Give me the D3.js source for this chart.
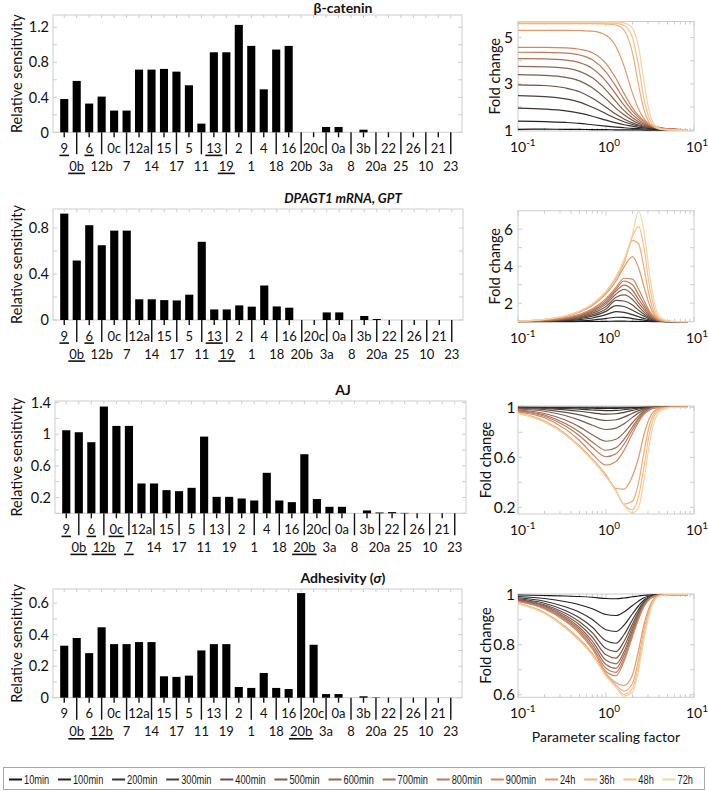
<!DOCTYPE html>
<html>
<head>
<meta charset="utf-8">
<script src="https://cdn.jsdelivr.net/npm/d3@7/dist/d3.min.js"></script>
<style>
html,body{margin:0;padding:0;background:#fff;}
svg{display:block;}
text{font-family:Lato,"Open Sans",sans-serif;fill:#111;}
</style>
</head>
<body>
<svg id="chart" width="708" height="792"></svg>
<script>
// ---------------- data ----------------
const categories = ["9","0b","6","12b","0c","7","12a","14","15","17","5","11","13","19","2","1","4","18","16","20b","20c","3a","0a","8","3b","20a","22","25","26","10","21","23"];

const betaCatenin = [0.38,0.587,0.328,0.408,0.248,0.248,0.716,0.716,0.724,0.693,0.537,0.099,0.914,0.914,1.227,0.987,0.491,0.945,0.987,0,0,0.061,0.061,0,0.03,0,0,0,0,0,0,0];
const dpagt1 = [0.925,0.517,0.824,0.65,0.777,0.777,0.18,0.18,0.173,0.17,0.22,0.68,0.092,0.092,0.127,0.116,0.30,0.118,0.107,0,0,0.066,0.066,0,0.035,0.009,0,0,0,0,0,0];
const aj = [1.05,1.025,0.899,1.35,1.105,1.105,0.377,0.377,0.293,0.28,0.322,0.97,0.208,0.208,0.187,0.162,0.512,0.162,0.141,0.747,0.18,0.082,0.082,0,0.036,0.01,0.015,0.005,0,0,0,0];
const adhesivity = [0.33,0.379,0.283,0.447,0.34,0.34,0.353,0.353,0.136,0.132,0.14,0.30,0.34,0.34,0.068,0.062,0.157,0.062,0.055,0.664,0.336,0.023,0.023,0,0.009,0.002,0,0,0,0,0,0];

const underlineBeta = ["9","6","13","0b","19"];
const underlineDpagt1 = ["9","6","13","0b","19"];
const underlineAJ = ["9","6","0c","0b","12b","7","20b"];
const underlineAdh = ["0b","12b","20b"];

const yTicksBeta = [0,0.4,0.8,1.2];
const yTicksDpagt1 = [0,0.4,0.8];
const yTicksAJ = [0.2,0.6,1,1.4];
const yTicksAdh = [0,0.2,0.4,0.6];

const timeLabels = ["10min","100min","200min","300min","400min","500min","600min","700min","800min","900min","24h","36h","48h","72h"];
const timeColors = ["#151515","#262422","#37322f","#4a413c","#6a5146","#7e5c4c","#936552","#a86f56","#bd7a5a","#d08760","#e29a68","#eeae7a","#f4c08c","#f8d2a2"];

const scaleFactors = [0.1,0.2,0.35,0.5,0.7,1.0,1.3,1.6,2.0,2.35,2.7,3.1,3.6,4.2,5.5,8.5];
const xTickExps = [-1,0,1];

const foldBeta = [
 [1.03,1.04,1.03,1.03,1.02,1.02,1.01,1.01,1.01,1.01,1.00,1.00,1.00,1.00,1.00,1.00],
 [1.39,1.37,1.33,1.29,1.23,1.17,1.13,1.10,1.07,1.06,1.05,1.04,1.03,1.02,1.01,1.00],
 [1.95,1.91,1.83,1.73,1.60,1.43,1.31,1.23,1.17,1.12,1.10,1.07,1.06,1.04,1.03,1.01],
 [2.49,2.45,2.35,2.21,1.99,1.71,1.50,1.36,1.24,1.18,1.14,1.10,1.07,1.05,1.03,1.01],
 [2.96,2.93,2.82,2.66,2.38,1.99,1.68,1.48,1.31,1.22,1.17,1.12,1.09,1.06,1.03,1.01],
 [3.40,3.37,3.28,3.13,2.83,2.35,1.94,1.66,1.42,1.29,1.21,1.15,1.11,1.07,1.04,1.01],
 [3.76,3.74,3.68,3.54,3.26,2.73,2.23,1.85,1.53,1.36,1.26,1.18,1.12,1.08,1.04,1.01],
 [4.09,4.08,4.03,3.92,3.67,3.12,2.55,2.08,1.67,1.45,1.31,1.21,1.14,1.09,1.04,1.01],
 [4.37,4.36,4.33,4.25,4.04,3.51,2.88,2.33,1.82,1.54,1.37,1.25,1.16,1.10,1.04,1.01],
 [4.58,4.58,4.56,4.50,4.35,3.88,3.23,2.59,1.96,1.62,1.41,1.26,1.16,1.09,1.04,1.01],
 [5.32,5.32,5.32,5.31,5.28,5.10,4.61,3.78,2.60,1.90,1.50,1.27,1.13,1.06,1.02,1.00],
 [5.61,5.61,5.61,5.61,5.61,5.60,5.55,5.33,4.34,2.92,1.88,1.33,1.11,1.03,1.00,1.00],
 [5.64,5.64,5.64,5.64,5.64,5.64,5.62,5.54,5.00,3.76,2.37,1.50,1.14,1.03,1.00,1.00],
 [5.67,5.67,5.67,5.67,5.67,5.67,5.67,5.64,5.40,4.58,3.11,1.80,1.21,1.05,1.01,1.00]
];
const foldDpagt1 = [
 [1.00,1.00,1.00,1.01,1.01,1.02,1.03,1.03,1.02,1.02,1.01,1.01,1.00,1.00,1.00,1.00],
 [1.00,1.01,1.03,1.05,1.09,1.17,1.24,1.23,1.17,1.12,1.08,1.05,1.02,1.01,1.00,1.00],
 [1.01,1.02,1.06,1.11,1.20,1.38,1.54,1.50,1.38,1.27,1.18,1.10,1.04,1.01,1.00,1.00],
 [1.01,1.03,1.09,1.17,1.30,1.56,1.87,1.82,1.62,1.44,1.30,1.16,1.07,1.02,1.00,1.00],
 [1.01,1.04,1.11,1.21,1.38,1.68,2.15,2.12,1.90,1.62,1.40,1.22,1.09,1.03,1.00,1.00],
 [1.02,1.05,1.14,1.26,1.46,1.82,2.32,2.45,2.20,1.82,1.52,1.28,1.11,1.04,1.01,1.00],
 [1.02,1.06,1.16,1.30,1.53,1.95,2.50,2.75,2.45,2.00,1.65,1.35,1.14,1.04,1.01,1.00],
 [1.02,1.07,1.18,1.33,1.60,2.05,2.65,2.98,2.70,2.20,1.80,1.42,1.17,1.05,1.01,1.00],
 [1.02,1.07,1.20,1.36,1.65,2.15,2.75,3.20,3.00,2.45,1.95,1.50,1.20,1.06,1.01,1.00],
 [1.02,1.08,1.22,1.40,1.70,2.25,2.85,3.35,3.30,2.75,2.15,1.60,1.22,1.07,1.01,1.00],
 [1.03,1.11,1.29,1.52,1.88,2.50,3.20,3.95,4.52,3.90,2.90,1.95,1.30,1.08,1.01,1.00],
 [1.03,1.12,1.31,1.55,1.93,2.58,3.35,4.15,5.40,5.20,3.90,2.40,1.40,1.10,1.01,1.00],
 [1.03,1.13,1.32,1.57,1.95,2.62,3.40,4.25,5.60,6.15,5.00,3.00,1.60,1.15,1.02,1.00],
 [1.03,1.13,1.33,1.58,1.97,2.65,3.45,4.35,5.75,6.97,5.90,3.70,1.90,1.20,1.02,1.00]
];
const foldAJ = [
 [1,1,1,1,1,1,1,1,1,1,1,1,1,1,1,1],
 [0.999,0.998,0.996,0.994,0.992,0.99,0.991,0.993,0.996,0.998,0.999,1,1,1,1,1],
 [0.998,0.995,0.99,0.985,0.978,0.973,0.975,0.98,0.988,0.993,0.997,0.999,1,1,1,1],
 [0.996,0.99,0.979,0.968,0.955,0.945,0.948,0.959,0.975,0.986,0.993,0.997,1,1,1,1],
 [0.991,0.981,0.959,0.939,0.914,0.894,0.9,0.921,0.952,0.973,0.987,0.995,0.999,1,1,1],
 [0.986,0.968,0.932,0.897,0.856,0.822,0.833,0.867,0.919,0.955,0.978,0.991,0.998,1,1,1],
 [0.978,0.95,0.896,0.843,0.78,0.728,0.744,0.797,0.876,0.931,0.967,0.986,0.997,1,1,1],
 [0.972,0.938,0.868,0.802,0.722,0.656,0.677,0.743,0.844,0.913,0.958,0.983,0.997,1,1,1],
 [0.968,0.928,0.848,0.772,0.68,0.604,0.628,0.704,0.82,0.9,0.952,0.98,0.996,1,1,1],
 [0.963,0.916,0.823,0.734,0.626,0.538,0.566,0.654,0.79,0.883,0.944,0.977,0.995,1,1,1],
 [0.955,0.89,0.785,0.69,0.585,0.46,0.35,0.345,0.45,0.6,0.78,0.91,0.975,0.995,1,1],
 [0.953,0.885,0.78,0.685,0.58,0.45,0.335,0.225,0.25,0.4,0.64,0.85,0.96,0.99,1,1],
 [0.952,0.883,0.778,0.683,0.578,0.447,0.33,0.22,0.18,0.29,0.52,0.78,0.94,0.985,1,1],
 [0.951,0.882,0.776,0.681,0.576,0.445,0.328,0.218,0.155,0.2,0.42,0.7,0.9,0.975,0.998,1]
];
const foldAdh = [
 [0.999,0.997,0.995,0.993,0.99,0.985,0.984,0.987,0.992,0.995,0.998,0.999,1,1,1,1],
 [0.993,0.985,0.972,0.96,0.944,0.921,0.917,0.931,0.957,0.975,0.988,0.995,0.999,1,1,1],
 [0.988,0.974,0.951,0.93,0.901,0.86,0.853,0.878,0.924,0.956,0.979,0.992,0.998,1,1,1],
 [0.984,0.966,0.936,0.908,0.87,0.816,0.806,0.84,0.9,0.942,0.972,0.989,0.997,1,1,1],
 [0.981,0.96,0.925,0.892,0.848,0.785,0.773,0.813,0.883,0.932,0.967,0.987,0.996,1,1,1],
 [0.979,0.956,0.916,0.88,0.83,0.76,0.747,0.791,0.87,0.924,0.963,0.986,0.996,1,1,1],
 [0.977,0.952,0.909,0.869,0.815,0.738,0.724,0.772,0.858,0.917,0.96,0.984,0.996,1,1,1],
 [0.976,0.948,0.903,0.861,0.803,0.721,0.706,0.758,0.849,0.912,0.958,0.983,0.995,1,1,1],
 [0.974,0.946,0.898,0.853,0.792,0.706,0.69,0.744,0.84,0.907,0.955,0.982,0.995,1,1,1],
 [0.973,0.943,0.893,0.846,0.783,0.693,0.676,0.733,0.833,0.903,0.953,0.982,0.995,1,1,1],
 [0.967,0.929,0.871,0.822,0.765,0.685,0.648,0.637,0.68,0.78,0.88,0.95,0.988,0.998,1,1],
 [0.966,0.927,0.868,0.818,0.762,0.68,0.638,0.615,0.645,0.745,0.86,0.94,0.985,0.998,1,1],
 [0.965,0.926,0.866,0.816,0.76,0.677,0.632,0.602,0.625,0.72,0.84,0.93,0.982,0.997,1,1],
 [0.965,0.925,0.865,0.815,0.758,0.675,0.63,0.595,0.61,0.7,0.82,0.92,0.98,0.997,1,1]
];

const yTicksR1 = [1,3,5], yMinorR1 = [2,4];
const yTicksR2 = [2,4,6], yMinorR2 = [3,5];
const yTicksR3 = [0.2,0.6,1], yMinorR3 = [0.4,0.8];
const yTicksR4 = [0.6,0.8,1], yMinorR4 = [0.7,0.9];

// ---------------- layout ----------------
const svg = d3.select("#chart");
const FRAME = "#cdcdcd";

const barPanels = [
  {title:"β-catenin", values:betaCatenin, ticks:yTicksBeta, minor:0.2, ymax:1.34, top:15, bottom:132.3, left:53, right:462, underline:underlineBeta, titleY:12.5},
  {title:"DPAGT1 mRNA, GPT", italic:true, values:dpagt1, ticks:yTicksDpagt1, minor:0.2, ymax:0.965, top:209, bottom:320, left:53, right:463, underline:underlineDpagt1, titleY:203},
  {title:"AJ", values:aj, ticks:yTicksAJ, minor:0.2, ymax:1.42, top:401, bottom:513.3, left:55, right:466, underline:underlineAJ, titleY:395},
  {title:"Adhesivity (", sigma:true, values:adhesivity, ticks:yTicksAdh, minor:0.1, ymax:0.69, top:589, bottom:697.7, left:53, right:462, underline:underlineAdh, titleY:583}
];

barPanels.forEach(p => {
  const g = svg.append("g");
  const x = d3.scaleBand().domain(categories).range([p.left+5, p.right-5]).paddingInner(0.35).paddingOuter(0.175);
  const y = d3.scaleLinear().domain([0, p.ymax]).range([p.bottom, p.top]);
  const cx = c => x(c) + x.bandwidth()/2;

  g.append("rect").attr("x",p.left).attr("y",p.top).attr("width",p.right-p.left).attr("height",p.bottom-p.top)
    .attr("fill","none").attr("stroke",FRAME).attr("stroke-width",1);
  const fr = d3.range(0, p.ymax+1e-9, p.minor);
  fr.forEach(v => {
    g.append("line").attr("x1",p.left).attr("x2",p.left+4).attr("y1",y(v)).attr("y2",y(v)).attr("stroke",FRAME);
    g.append("line").attr("x1",p.right-4).attr("x2",p.right).attr("y1",y(v)).attr("y2",y(v)).attr("stroke",FRAME);
  });
  categories.forEach(c => {
    g.append("line").attr("x1",cx(c)).attr("x2",cx(c)).attr("y1",p.top).attr("y2",p.top+3).attr("stroke",FRAME);
  });

  g.selectAll("rect.bar").data(categories.map((c,i)=>({c, v:p.values[i]}))).join("rect")
    .attr("class","bar").attr("x",d=>x(d.c)).attr("width",x.bandwidth())
    .attr("y",d=>y(d.v)).attr("height",d=>y(0)-y(d.v)).attr("fill","#000");

  p.ticks.forEach(v => {
    g.append("text").attr("x",p.left-4).attr("y",y(v)).attr("dy","0.36em")
      .attr("text-anchor","end").attr("font-size",14.5).text(String(v));
  });

  categories.forEach((c,i) => {
    const top = i % 2 === 0;
    const xx = cx(c);
    g.append("line").attr("x1",xx).attr("x2",xx).attr("y1",p.bottom).attr("y2",p.bottom + (top?5:22))
      .attr("stroke","#111").attr("stroke-width",1.4);
    const by = p.bottom + (top ? 20.5 : 38.5);
    const t = g.append("text").attr("x",xx).attr("y",by).attr("text-anchor","middle").attr("font-size",13).text(c);
    if (p.underline.includes(c)) {
      const w = t.node().getComputedTextLength();
      g.append("line").attr("x1",xx-w/2-1).attr("x2",xx+w/2+1).attr("y1",by+2.6).attr("y2",by+2.6)
        .attr("stroke","#111").attr("stroke-width",1.6);
    }
  });

  g.append("text").attr("transform",`translate(17,${(p.top+p.bottom)/2}) rotate(-90)`)
    .attr("text-anchor","middle").attr("dy","0.35em").attr("font-size",14.5).text("Relative sensitivity");

  const tt = g.append("text").attr("x",343).attr("y",p.titleY).attr("text-anchor","middle")
    .attr("font-size",p.italic?13.2:14).attr("font-weight","bold");
  if (p.italic) tt.attr("font-style","italic");
  tt.append("tspan").text(p.title);
  if (p.sigma) {
    tt.append("tspan").attr("font-style","italic").text("σ");
    tt.append("tspan").text(")");
  }
});

// ---------------- line panels ----------------
const linePanels = [
  {series:foldBeta, ymin:0.96, ymax:5.7, ticks:yTicksR1, minor:yMinorR1, top:21.5, bottom:131, titleX:495, labGap:5},
  {series:foldDpagt1, ymin:1, ymax:7, ticks:yTicksR2, minor:yMinorR2, top:210.7, bottom:321.7, titleX:495, labGap:5},
  {series:foldAJ, ymin:0.146, ymax:1.01, ticks:yTicksR3, minor:yMinorR3, top:406, bottom:514, titleX:485.5, labGap:2.5},
  {series:foldAdh, ymin:0.59, ymax:1.003, ticks:yTicksR4, minor:yMinorR4, top:594, bottom:697.3, titleX:485.5, labGap:3}
];
const LL = 518, LR = 694;

linePanels.forEach((p, pi) => {
  const g = svg.append("g");
  const x = d3.scaleLog().domain([0.1, 10]).range([LL, LR]);
  const y = d3.scaleLinear().domain([p.ymin, p.ymax]).range([p.bottom, p.top]);

  g.append("rect").attr("x",LL).attr("y",p.top).attr("width",LR-LL).attr("height",p.bottom-p.top)
    .attr("fill","none").attr("stroke",FRAME);

  const xt = [];
  [0.1, 1].forEach(d => { for (let k=1;k<=9;k++) xt.push(d*k); });
  xt.push(10);
  xt.forEach(v => {
    const major = Math.abs(Math.log10(v) - Math.round(Math.log10(v))) < 1e-9;
    const L = major ? 5 : 3;
    g.append("line").attr("x1",x(v)).attr("x2",x(v)).attr("y1",p.bottom).attr("y2",p.bottom-L).attr("stroke",FRAME);
    g.append("line").attr("x1",x(v)).attr("x2",x(v)).attr("y1",p.top).attr("y2",p.top+L).attr("stroke",FRAME);
  });
  p.ticks.concat(p.minor).forEach(v => {
    g.append("line").attr("x1",LL).attr("x2",LL+4).attr("y1",y(v)).attr("y2",y(v)).attr("stroke",FRAME);
    g.append("line").attr("x1",LR-4).attr("x2",LR).attr("y1",y(v)).attr("y2",y(v)).attr("stroke",FRAME);
  });

  const clipId = "clip" + pi;
  svg.append("clipPath").attr("id",clipId).append("rect")
    .attr("x",LL).attr("y",p.top-1).attr("width",LR-LL).attr("height",p.bottom-p.top+2);
  const line = d3.line().x(d=>x(d[0])).y(d=>y(d[1])).curve(d3.curveMonotoneX);
  const lg = g.append("g").attr("clip-path",`url(#${clipId})`);
  p.series.forEach((vals, si) => {
    lg.append("path").attr("d", line(scaleFactors.map((s,k)=>[s, vals[k]])))
      .attr("fill","none").attr("stroke",timeColors[si]).attr("stroke-width",1.2);
  });

  p.ticks.forEach(v => {
    g.append("text").attr("x",LL-p.labGap).attr("y",y(v)).attr("dy","0.36em").attr("text-anchor","end")
      .attr("font-size",15.5).text(String(v));
  });
  xTickExps.forEach(e => {
    const t = g.append("text").attr("y",p.bottom+21).attr("font-size",14);
    const base = t.append("tspan").text("10");
    t.append("tspan").attr("dy",-6).attr("font-size",10).text(String(e));
    const w = base.node().getComputedTextLength();
    t.attr("x", x(Math.pow(10,e)) - w/2);
  });
  g.append("text").attr("transform",`translate(${p.titleX},${(p.top+p.bottom)/2}) rotate(-90)`)
    .attr("text-anchor","middle").attr("dy","0.35em").attr("font-size",14.5).text("Fold change");
});

svg.append("text").attr("x",606).attr("y",741.5).attr("text-anchor","middle").attr("font-size",14)
  .text("Parameter scaling factor");

// ---------------- legend ----------------
const lgd = svg.append("g");
lgd.append("rect").attr("x",3.5).attr("y",767.5).attr("width",701).attr("height",22)
  .attr("fill","none").attr("stroke","#a8a8a8");
const items = timeLabels.map((lab,i) => {
  const gg = lgd.append("g");
  gg.append("line").attr("x1",0).attr("x2",13).attr("y1",0).attr("y2",0)
    .attr("stroke",timeColors[i]).attr("stroke-width",2);
  const tg = gg.append("g").attr("transform","translate(15,0) scale(0.74,1)");
  const t = tg.append("text").attr("x",0).attr("y",4.6)
    .style("font-family","'Liberation Sans',Arial,sans-serif").style("fill","#1a1a1a")
    .attr("font-size",12.5).text(lab);
  return {gg, w: 15 + t.node().getComputedTextLength()*0.74};
});
const totalW = d3.sum(items, d=>d.w);
const gap = (693 - 9 - totalW) / (items.length - 1);
let cxp = 9;
items.forEach(it => { it.gg.attr("transform",`translate(${cxp},779.5)`); cxp += it.w + gap; });
</script>
</body>
</html>
